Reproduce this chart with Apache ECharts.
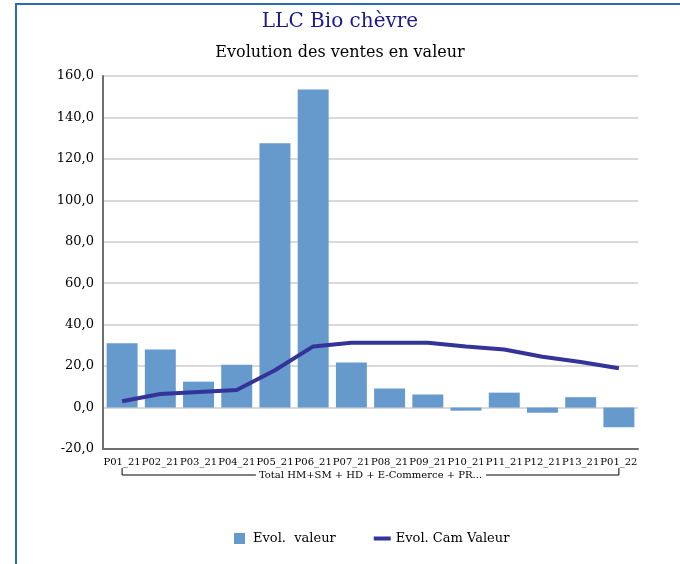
<!DOCTYPE html>
<html><head><meta charset="utf-8">
<script src="https://cdn.jsdelivr.net/npm/echarts@6/dist/echarts.min.js"></script>
<style>html,body{margin:0;padding:0;background:#fff}#c{width:680px;height:564px}
#frame{position:absolute;left:15px;top:3px;right:-5px;bottom:-5px;border:2px solid #2a6ab8;pointer-events:none}</style>
</head><body><div id="c"></div><div id="frame"></div>
<script>
const categories = ['P01_21','P02_21','P03_21','P04_21','P05_21','P06_21','P07_21','P08_21','P09_21','P10_21','P11_21','P12_21','P13_21','P01_22'];
const evolValeur = [31, 28, 12.5, 20.7, 127.5, 153.5, 21.7, 9.2, 6.3, -1.5, 7.2, -2.5, 5, -9.5];
const evolCamValeur = [3, 6.5, 7.5, 8.5, 18, 29.5, 31.3, 31.3, 31.3, 29.5, 28, 24.5, 22, 19];
const groupLabel = 'Total HM+SM + HD + E-Commerce + PR...';
const yTicks = {min: -20, max: 160, interval: 20};

const FONT = 'DejaVu Serif';
const chart = echarts.init(document.getElementById('c'));
const option = {
  animation: false,
  title: [
    {text: 'LLC Bio chèvre', left: 'center', top: 7, textStyle: {fontFamily: FONT, fontSize: 20, fontWeight: 'normal', color: '#1a1a8c'}},
    {text: 'Evolution des ventes en valeur', left: 'center', top: 40, textStyle: {fontFamily: FONT, fontSize: 16, fontWeight: 'normal', color: '#000'}}
  ],
  legend: {
    bottom: 14, left: 229, itemGap: 38, itemWidth: 17, itemHeight: 11,
    textStyle: {fontFamily: FONT, fontSize: 13, color: '#000'},
    data: [
      {name: 'Evol.  valeur', icon: 'path://M0,0h11v11h-11z'},
      {name: 'Evol. Cam Valeur', icon: 'path://M0,0h17v4h-17z', itemStyle: {color: '#333399'}}
    ]
  },
  grid: {left: 103, right: 42, top: 76, bottom: 115, containLabel: false},
  xAxis: {
    type: 'category', data: categories,
    axisLine: {onZero: false, lineStyle: {color: '#6f6f6f', width: 2}},
    axisTick: {show: false},
    axisLabel: {interval: 0, fontFamily: FONT, fontSize: 10, color: '#000', margin: 8}
  },
  yAxis: {
    type: 'value', min: yTicks.min, max: yTicks.max, interval: yTicks.interval,
    axisLine: {show: true, lineStyle: {color: '#6f6f6f', width: 2}},
    axisTick: {show: false},
    splitLine: {lineStyle: {color: '#d9d9d9', width: 2}},
    axisLabel: {fontFamily: FONT, fontSize: 13, color: '#000', margin: 9, formatter: v => v.toFixed(1).replace('.', ',')}
  },
  series: [
    {name: 'Evol.  valeur', type: 'bar', data: evolValeur, barCategoryGap: '19%', itemStyle: {color: '#6699cc'}},
    {name: 'Evol. Cam Valeur', type: 'line', data: evolCamValeur, symbol: 'none', lineStyle: {color: '#333399', width: 4}, itemStyle: {color: '#333399'}}
  ]
};
chart.setOption(option);

// bracket for the group label under the category axis
const x0 = chart.convertToPixel({xAxisIndex: 0}, categories[0]);
const x1 = chart.convertToPixel({xAxisIndex: 0}, categories[categories.length - 1]);
const yBase = chart.convertToPixel({yAxisIndex: 0}, yTicks.min);
const ly = yBase + 26, tickH = 7;
const txt = new echarts.graphic.Text({style: {text: groupLabel, font: '10px ' + FONT}});
const tw = txt.getBoundingRect().width;
const cx = (x0 + x1) / 2;
const ls = {stroke: '#000', lineWidth: 1};
chart.setOption({graphic: [
  {type: 'polyline', shape: {points: [[x0, ly - tickH], [x0, ly], [cx - tw / 2 - 3, ly]]}, style: ls, silent: true},
  {type: 'polyline', shape: {points: [[cx + tw / 2 + 4, ly], [x1, ly], [x1, ly - tickH]]}, style: ls, silent: true},
  {type: 'text', x: cx, y: ly, style: {text: groupLabel, font: '10px ' + FONT, fill: '#000', align: 'center', verticalAlign: 'middle'}, silent: true}
]});
</script></body></html>
